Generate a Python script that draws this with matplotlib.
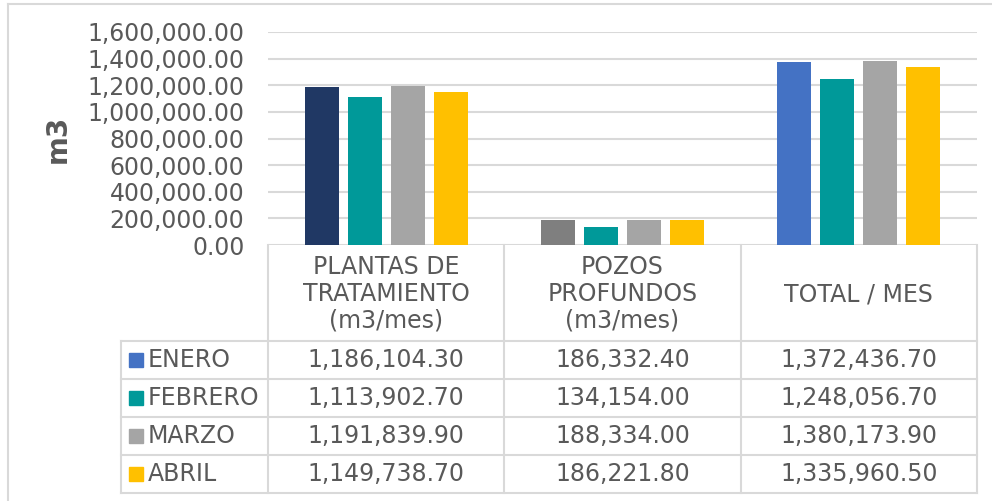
import matplotlib.pyplot as plt
from matplotlib.patches import Rectangle
from matplotlib.transforms import blended_transform_factory

categories = ["PLANTAS DE\nTRATAMIENTO\n(m3/mes)", "POZOS\nPROFUNDOS\n(m3/mes)", "TOTAL / MES"]
months = ["ENERO", "FEBRERO", "MARZO", "ABRIL"]
enero = [1186104.30, 186332.40, 1372436.70]
febrero = [1113902.70, 134154.00, 1248056.70]
marzo = [1191839.90, 188334.00, 1380173.90]
abril = [1149738.70, 186221.80, 1335960.50]
series = [enero, febrero, marzo, abril]

# ENERO bars have a different colour in each group (as in the original sheet)
enero_colors = ["#203864", "#7F7F7F", "#4472C4"]
month_colors = ["#4472C4", "#009999", "#A5A5A5", "#FFC000"]

W, H = 992, 501
txt = "#595959"
grid = "#D9D9D9"
fs = 17

fig = plt.figure(figsize=(W / 100, H / 100), dpi=100)

def fy(py):
    return 1 - py / H

def fx(px):
    return px / W

ax = fig.add_axes([fx(268), fy(245), fx(977) - fx(268), fy(32) - fy(245)])
ax.set_xlim(-0.5, 2.5)
ax.set_ylim(0, 1600000)

width = 0.144
step = 0.182
for i, vals in enumerate(series):
    offs = (i - 1.5) * step
    cols = enero_colors if i == 0 else [month_colors[i]] * len(vals)
    ax.bar([k + offs for k in range(len(vals))], vals, width=width, color=cols, zorder=3)

ax.set_yticks(range(0, 1600001, 200000))
ax.set_yticklabels([f"{v:,.2f}" for v in range(0, 1600001, 200000)], color=txt, fontsize=fs)
ax.tick_params(axis="y", length=0, pad=17)
ax.set_xticks([])
ax.grid(axis="y", color=grid, linewidth=1.5, zorder=0)
for s in ax.spines.values():
    s.set_visible(False)
fig.text(fx(58), fy(139), "m3", rotation=90, ha="center", va="center",
         fontsize=20, fontweight="bold", color=txt)

# data table under the chart
tr = blended_transform_factory(ax.transData, fig.transFigure)
row_edges = [341, 379, 417, 455, 493]
col_edges = [268, 504, 741, 977]
lw = 1.5
for px in col_edges:
    fig.add_artist(plt.Line2D([fx(px), fx(px)], [fy(245), fy(493)], color=grid, lw=lw))
fig.add_artist(plt.Line2D([fx(121), fx(121)], [fy(341), fy(493)], color=grid, lw=lw))
for py in row_edges:
    fig.add_artist(plt.Line2D([fx(121), fx(977)], [fy(py), fy(py)], color=grid, lw=lw))

for k, c in enumerate(categories):
    fig.text(k, fy(294), c, transform=tr, ha="center", va="center",
             fontsize=fs, color=txt, linespacing=1.15)

for i, (m, vals) in enumerate(zip(months, series)):
    yc = (row_edges[i] + row_edges[i + 1]) / 2
    fig.add_artist(Rectangle((fx(129), fy(yc + 7)), fx(14), 14 / H,
                             color=month_colors[i], transform=fig.transFigure))
    fig.text(fx(148), fy(yc), m, ha="left", va="center", fontsize=fs, color=txt)
    for k, v in enumerate(vals):
        fig.text(k, fy(yc), f"{v:,.2f}", transform=tr, ha="center", va="center",
                 fontsize=fs, color=txt)

# chart border
fig.add_artist(plt.Line2D([fx(8), fx(8)], [fy(4), 0], color=grid, lw=lw))
fig.add_artist(plt.Line2D([fx(8), 1], [fy(4), fy(4)], color=grid, lw=lw))

fig.savefig("out.png", dpi=100)
